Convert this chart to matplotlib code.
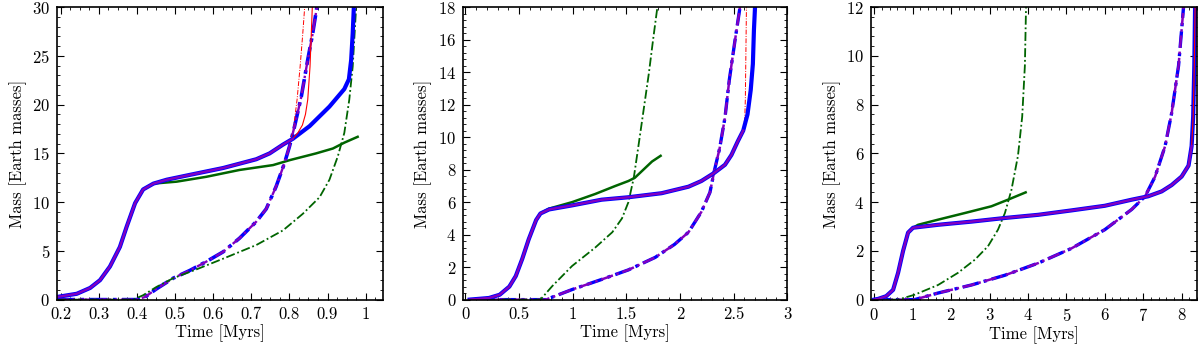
import numpy as np
import matplotlib.pyplot as plt
from matplotlib.ticker import MultipleLocator

plt.rcParams['font.family'] = 'serif'
plt.rcParams['font.serif'] = ['cmr10', 'DejaVu Serif']
plt.rcParams['mathtext.fontset'] = 'cm'
plt.rcParams['axes.formatter.use_mathtext'] = True
plt.rcParams['font.size'] = 12

BLUE = '#0000ff'
RED = '#ff0000'
PURPLE = '#8200c0'
GREEN = '#006400'

# ---------------- panel 1 ----------------
p1_sol_x = [0.19, 0.242, 0.277, 0.303, 0.329, 0.355, 0.373, 0.395, 0.416, 0.443, 0.478, 0.539, 0.626, 0.713, 0.748, 0.783, 0.809]
p1_sol_y = [0.27, 0.6, 1.2, 2.0, 3.4, 5.4, 7.5, 9.9, 11.3, 11.9, 12.3, 12.8, 13.5, 14.4, 15.0, 15.9, 16.5]
p1_blue_x = [0.809, 0.853, 0.905, 0.944, 0.956, 0.962, 0.966, 0.969]
p1_blue_y = [16.5, 17.8, 19.8, 21.6, 22.6, 24.6, 27.3, 30.0]
p1_red_x = [0.809, 0.822, 0.834, 0.842, 0.848, 0.854, 0.86]
p1_red_y = [16.5, 17.1, 17.9, 19.0, 20.5, 23.9, 30.0]
p1_green_x = [0.443, 0.504, 0.582, 0.669, 0.757, 0.80, 0.87, 0.914, 0.944, 0.979]
p1_green_y = [11.9, 12.1, 12.6, 13.3, 13.8, 14.3, 15.0, 15.5, 16.1, 16.7]
p1_dd_x = [0.19, 0.30, 0.399, 0.421, 0.451, 0.495, 0.539, 0.582, 0.626, 0.669, 0.713, 0.739, 0.765, 0.787, 0.80, 0.813, 0.831, 0.848, 0.861, 0.872]
p1_dd_y = [0.0, 0.0, 0.0, 0.27, 1.1, 2.2, 3.0, 3.9, 4.9, 6.3, 8.0, 9.3, 11.6, 14.0, 15.7, 17.7, 20.8, 24.6, 27.3, 30.0]
p1_red_dd_x = [0.80, 0.811, 0.82, 0.828, 0.835, 0.84]
p1_red_dd_y = [15.7, 17.7, 20.5, 23.9, 27.3, 30.0]
p1_gdd_x = [0.19, 0.30, 0.39, 0.416, 0.451, 0.495, 0.556, 0.626, 0.713, 0.783, 0.835, 0.879, 0.905, 0.927, 0.944, 0.957, 0.966, 0.975]
p1_gdd_y = [0.0, 0.0, 0.0, 0.45, 1.3, 2.2, 3.1, 4.2, 5.6, 7.1, 8.8, 10.5, 12.3, 14.7, 17.1, 20.5, 23.9, 30.0]

# ---------------- panel 2 ----------------
p2_sol_x = [0.04, 0.22, 0.32, 0.41, 0.47, 0.53, 0.59, 0.66, 0.70, 0.78, 0.995, 1.27, 1.52, 1.83, 2.08, 2.20, 2.32, 2.42, 2.48, 2.54, 2.59]
p2_sol_y = [0.0, 0.1, 0.3, 0.8, 1.45, 2.5, 3.7, 4.9, 5.3, 5.55, 5.8, 6.15, 6.3, 6.55, 6.95, 7.3, 7.8, 8.3, 8.9, 9.75, 10.4]
p2_blue_x = [2.59, 2.63, 2.66, 2.68, 2.69, 2.70]
p2_blue_y = [10.4, 11.4, 12.9, 14.5, 16.6, 18.0]
p2_red_dd_x = [2.59, 2.605, 2.61, 2.62]
p2_red_dd_y = [10.4, 11.2, 12.4, 18.0]
p2_green_x = [0.70, 0.78, 0.995, 1.21, 1.40, 1.52, 1.58, 1.66, 1.74, 1.82]
p2_green_y = [5.3, 5.6, 6.0, 6.5, 7.0, 7.3, 7.5, 8.0, 8.5, 8.85]
p2_gdd_x = [0.04, 0.40, 0.70, 0.81, 0.995, 1.21, 1.37, 1.46, 1.52, 1.57, 1.61, 1.66, 1.71, 1.75, 1.79]
p2_gdd_y = [0.0, 0.0, 0.0, 0.83, 2.07, 3.2, 4.15, 5.0, 6.0, 7.5, 9.3, 11.6, 13.9, 16.0, 18.0]
p2_dd_x = [0.04, 0.40, 0.75, 0.995, 1.27, 1.52, 1.77, 1.95, 2.08, 2.20, 2.28, 2.32, 2.37, 2.42, 2.46, 2.51, 2.56]
p2_dd_y = [0.0, 0.0, 0.0, 0.62, 1.24, 1.83, 2.6, 3.4, 4.15, 5.4, 6.6, 7.9, 9.3, 11.2, 13.5, 15.8, 18.0]

# ---------------- panel 3 ----------------
p3_sol_x = [0.0, 0.1, 0.31, 0.49, 0.62, 0.75, 0.88, 1.01, 1.66, 2.53, 3.40, 4.27, 5.13, 6.0, 6.7, 7.13, 7.48, 7.74, 8.0, 8.18, 8.26, 8.30, 8.33, 8.35]
p3_sol_y = [0.0, 0.03, 0.14, 0.4, 1.1, 2.0, 2.75, 2.95, 3.07, 3.2, 3.35, 3.48, 3.66, 3.85, 4.1, 4.24, 4.44, 4.7, 5.05, 5.5, 6.3, 7.5, 9.6, 12.0]
p3_green_x = [1.01, 1.14, 1.66, 2.35, 3.05, 3.48, 3.94]
p3_green_y = [2.95, 3.07, 3.28, 3.55, 3.83, 4.1, 4.4]
p3_gdd_x = [0.0, 0.30, 0.62, 1.05, 1.66, 2.18, 2.62, 2.96, 3.22, 3.40, 3.57, 3.74, 3.85, 3.92, 3.95]
p3_gdd_y = [0.0, 0.0, 0.0, 0.2, 0.6, 1.1, 1.64, 2.19, 2.87, 3.55, 4.5, 5.9, 7.5, 9.6, 12.0]
p3_dd_x = [0.0, 0.50, 1.05, 1.66, 2.53, 3.40, 4.27, 5.13, 6.0, 6.7, 7.05, 7.31, 7.57, 7.74, 7.92, 8.05]
p3_dd_y = [0.0, 0.0, 0.0, 0.27, 0.6, 1.0, 1.5, 2.1, 2.87, 3.7, 4.24, 5.05, 6.3, 7.65, 9.6, 12.0]

DD = (0, (5, 1.5, 1, 1.5))

fig = plt.figure(figsize=(12, 3.49), dpi=100)
positions = [[0.0475, 0.1415, 0.2715, 0.838],
             [0.386, 0.1415, 0.270, 0.838],
             [0.726, 0.1415, 0.2715, 0.838]]
axes = [fig.add_axes(p) for p in positions]

# panel 1
ax = axes[0]
ax.plot(p1_dd_x, p1_dd_y, color=BLUE, lw=2.6, ls=DD)
ax.plot(p1_red_dd_x, p1_red_dd_y, color=RED, lw=0.7, ls=DD)
ax.plot(p1_dd_x, p1_dd_y, color=PURPLE, lw=1.7, ls=DD)
ax.plot(p1_gdd_x, p1_gdd_y, color=GREEN, lw=1.3, ls=DD)
ax.plot(p1_sol_x + p1_blue_x[1:], p1_sol_y + p1_blue_y[1:], color=BLUE, lw=3.0)
ax.plot(p1_red_x, p1_red_y, color=RED, lw=0.8)
ax.plot(p1_sol_x, p1_sol_y, color=PURPLE, lw=1.7)
ax.plot(p1_sol_x[:10] + p1_green_x[1:], p1_sol_y[:10] + p1_green_y[1:], color=GREEN, lw=1.8, zorder=1.5)
ax.set_xlim(0.19, 1.045)
ax.set_ylim(0, 30)
ax.xaxis.set_minor_locator(MultipleLocator(0.025))
ax.yaxis.set_major_locator(MultipleLocator(5))
ax.yaxis.set_minor_locator(MultipleLocator(1))
ax.set_xticks(np.arange(0.2, 1.01, 0.1))
ax.set_xticklabels(['0.2', '0.3', '0.4', '0.5', '0.6', '0.7', '0.8', '0.9', '1'])

# panel 2
ax = axes[1]
ax.plot(p2_dd_x, p2_dd_y, color=BLUE, lw=2.4, ls=DD)
ax.plot(p2_red_dd_x, p2_red_dd_y, color=RED, lw=0.7, ls=DD)
ax.plot(p2_dd_x, p2_dd_y, color=PURPLE, lw=1.8, ls=DD)
ax.plot(p2_gdd_x, p2_gdd_y, color=GREEN, lw=1.3, ls=DD)
ax.plot(p2_sol_x + p2_blue_x[1:], p2_sol_y + p2_blue_y[1:], color=BLUE, lw=3.0)
ax.plot(p2_sol_x, p2_sol_y, color=RED, lw=0.8)
ax.plot(p2_sol_x, p2_sol_y, color=PURPLE, lw=1.7)
ax.plot(p2_sol_x[:9] + p2_green_x[1:], p2_sol_y[:9] + p2_green_y[1:], color=GREEN, lw=1.8, zorder=1.5)
ax.set_xlim(-0.02, 3.0)
ax.set_ylim(0, 18)
ax.xaxis.set_minor_locator(MultipleLocator(0.1))
ax.yaxis.set_major_locator(MultipleLocator(2))
ax.yaxis.set_minor_locator(MultipleLocator(0.4))
ax.set_xticks([0, 0.5, 1, 1.5, 2, 2.5, 3])
ax.set_xticklabels(['0', '0.5', '1', '1.5', '2', '2.5', '3'])

# panel 3
ax = axes[2]
ax.plot(p3_dd_x, p3_dd_y, color=BLUE, lw=2.4, ls=DD)
ax.plot(p3_dd_x, p3_dd_y, color=PURPLE, lw=1.8, ls=DD)
ax.plot(p3_gdd_x, p3_gdd_y, color=GREEN, lw=1.3, ls=DD)
ax.plot(p3_sol_x, p3_sol_y, color=BLUE, lw=3.0)
ax.plot(p3_sol_x, p3_sol_y, color=RED, lw=0.8)
ax.plot(p3_sol_x[:-3], p3_sol_y[:-3], color=PURPLE, lw=1.7)
ax.plot(p3_sol_x[:8] + p3_green_x[1:], p3_sol_y[:8] + p3_green_y[1:], color=GREEN, lw=1.8, zorder=1.5)
ax.set_xlim(-0.08, 8.4)
ax.set_ylim(0, 12)
ax.xaxis.set_major_locator(MultipleLocator(1))
ax.xaxis.set_minor_locator(MultipleLocator(0.2))
ax.yaxis.set_major_locator(MultipleLocator(2))
ax.yaxis.set_minor_locator(MultipleLocator(0.4))

for ax in axes:
    ax.set_xlabel('Time [Myrs]', labelpad=2)
    ax.set_ylabel('Mass [Earth masses]', labelpad=4)
    ax.tick_params(which='both', direction='in', top=True, right=True, labelsize=12)
    ax.tick_params(which='major', length=5, width=0.8, pad=5)
    ax.tick_params(which='minor', length=2.5, width=0.6)
    for s in ax.spines.values():
        s.set_linewidth(1.2)

fig.savefig('out.png', dpi=100)
